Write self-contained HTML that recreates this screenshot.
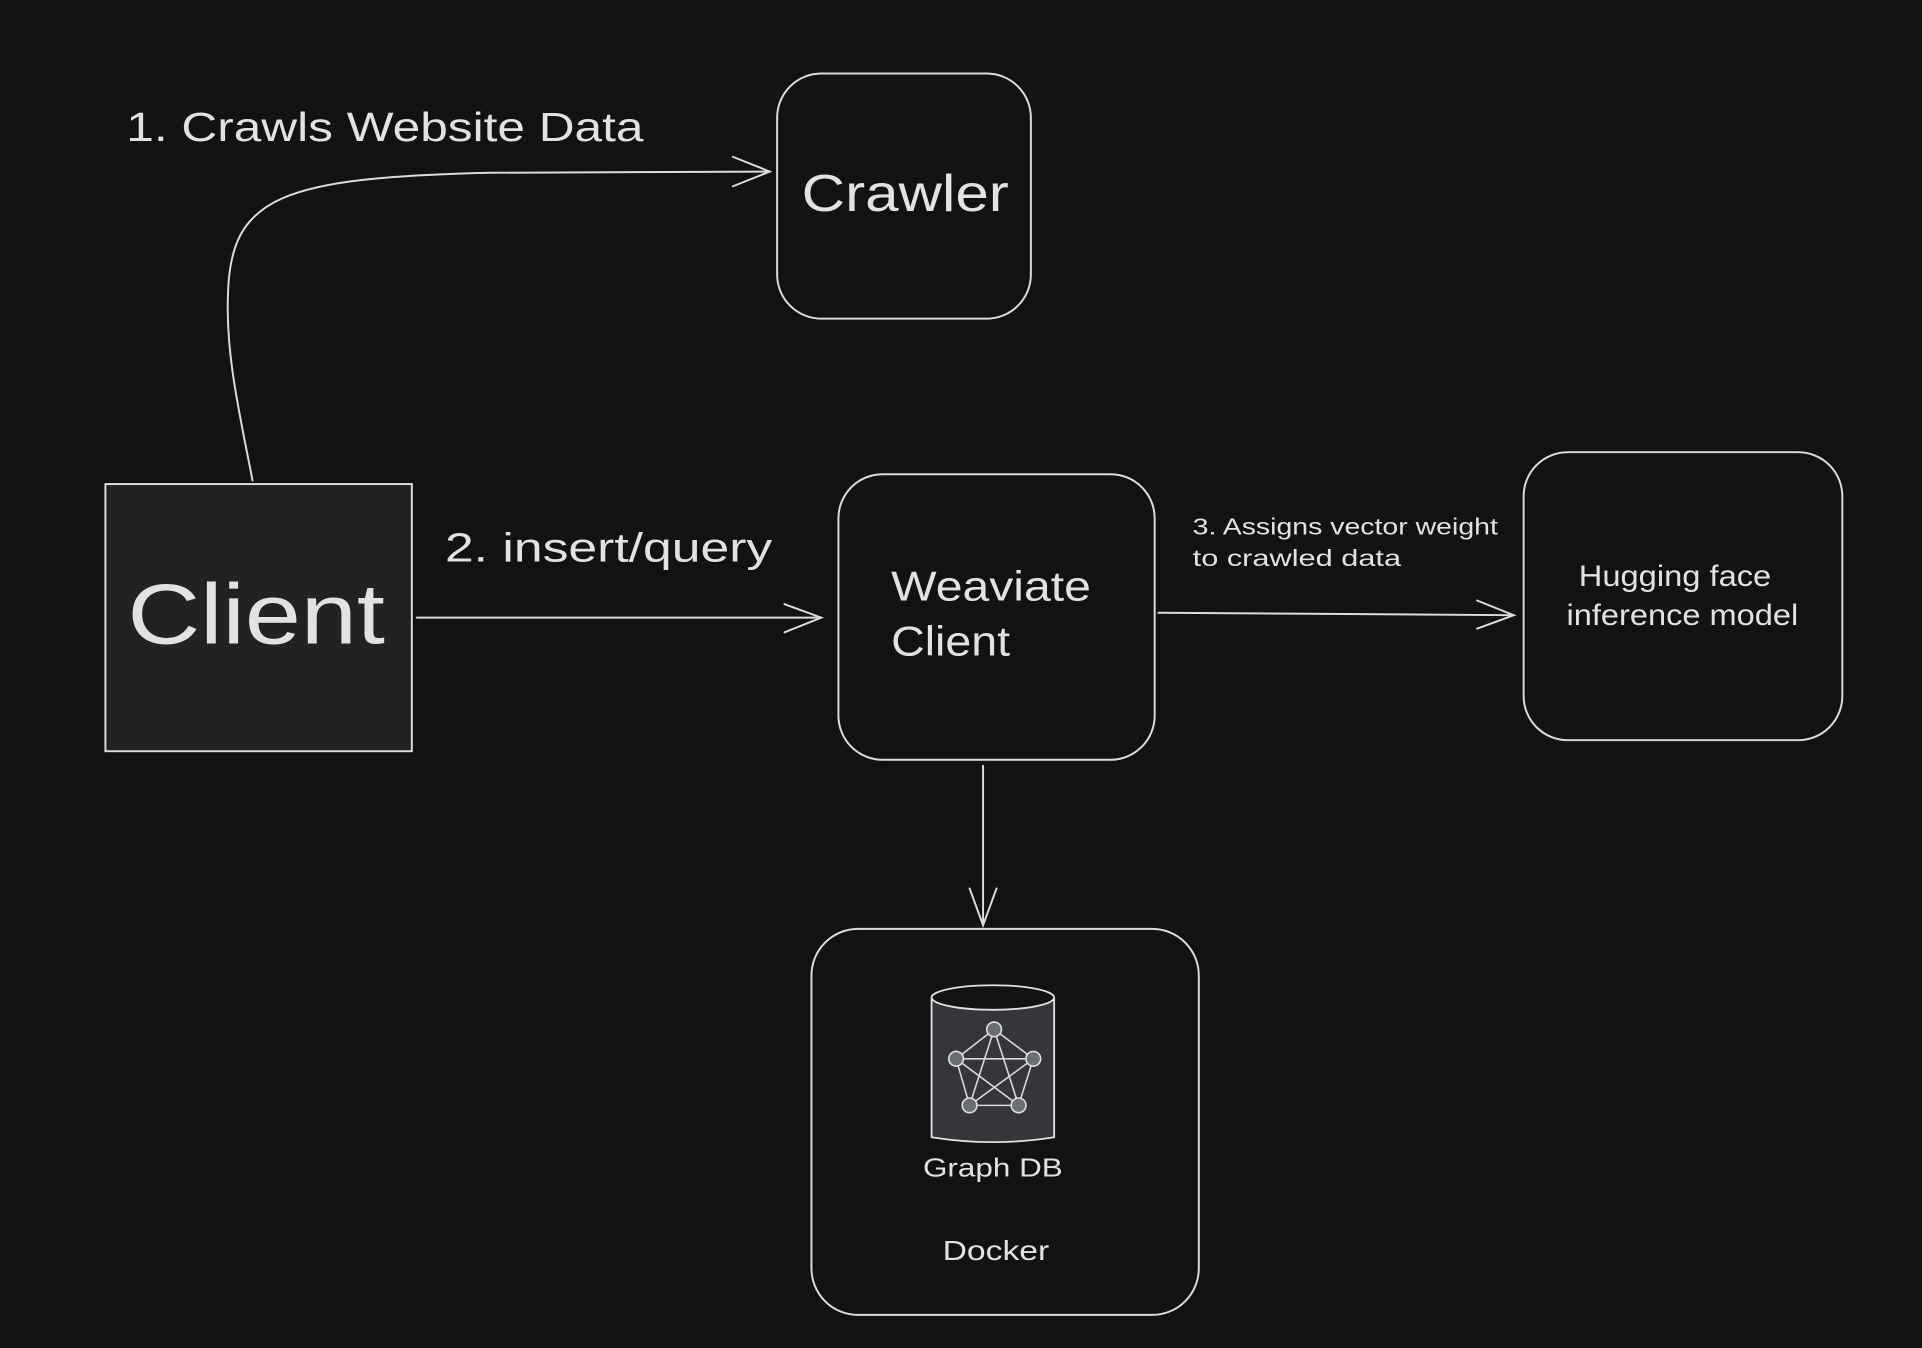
<!DOCTYPE html>
<html><head><meta charset="utf-8"><style>
html,body{margin:0;padding:0;background:#121212;}
svg{display:block}
text{font-family:"Liberation Sans",sans-serif;fill:#e2e2e2}
</style></head><body>
<svg width="1922" height="1348" viewBox="0 0 1568 1100" preserveAspectRatio="none" xmlns="http://www.w3.org/2000/svg">
<rect width="1568" height="1100" fill="#121212"/>
<g fill="none" stroke="#dcdcdc" stroke-width="1.6" stroke-linecap="round">
<rect x="86" y="395" width="250" height="218" fill="#222222"/>
<rect x="634" y="60" width="207" height="200" rx="36"/>
<rect x="684" y="387" width="258" height="233" rx="36"/>
<rect x="1243" y="369" width="260" height="235" rx="36"/>
<rect x="662" y="758" width="316" height="315" rx="38"/>
<path d="M206 392 C196 340 184 290 186 240 C188 160 230 145 400 141 L628 140"/>
<path d="M598 128 L628 140 L598 152"/>
<path d="M340 504 L670 504"/>
<path d="M640 493 L670 504 L640 516"/>
<path d="M945 500 L1235 502"/>
<path d="M1205 490 L1235 502 L1205 513"/>
<path d="M802 625 L802 755"/>
<path d="M791 725 L802 755 L813 725"/>
</g>
<g stroke="#e0e0e0" stroke-width="1.5">
<path d="M760 814 L760 928 Q810 936 860 928 L860 814" fill="#343639"/>
<ellipse cx="810" cy="814" rx="50" ry="10" fill="#121212"/>
<g fill="none" stroke="#d8d8d8" stroke-width="1.3">
<path d="M811 840 L780 864 L791 902 L831 902 L843 864 Z"/>
<path d="M811 840 L791 902 L843 864 L780 864 L831 902 Z"/>
</g>
<g fill="#6b6e72" stroke="#e0e0e0" stroke-width="1.3">
<circle cx="811" cy="840" r="6"/><circle cx="780" cy="864" r="6"/><circle cx="843" cy="864" r="6"/><circle cx="791" cy="902" r="6"/><circle cx="831" cy="902" r="6"/>
</g>
</g>
<text x="104" y="525" font-size="70" textLength="210" lengthAdjust="spacingAndGlyphs">Client</text>
<text x="654" y="172" font-size="42" textLength="169" lengthAdjust="spacingAndGlyphs">Crawler</text>
<text x="727" y="490" font-size="34" textLength="163" lengthAdjust="spacingAndGlyphs">Weaviate</text>
<text x="727" y="535" font-size="34" textLength="97" lengthAdjust="spacingAndGlyphs">Client</text>
<text x="1288" y="478" font-size="24" textLength="157" lengthAdjust="spacingAndGlyphs">Hugging face</text>
<text x="1278" y="510" font-size="24" textLength="189" lengthAdjust="spacingAndGlyphs">inference model</text>
<text x="753" y="960" font-size="21" textLength="114" lengthAdjust="spacingAndGlyphs">Graph DB</text>
<text x="769" y="1028" font-size="23" textLength="87" lengthAdjust="spacingAndGlyphs">Docker</text>
<text x="103" y="115" font-size="33" textLength="422" lengthAdjust="spacingAndGlyphs">1. Crawls Website Data</text>
<text x="363" y="458" font-size="33" textLength="267" lengthAdjust="spacingAndGlyphs">2. insert/query</text>
<text x="973" y="436" font-size="19" textLength="249" lengthAdjust="spacingAndGlyphs">3. Assigns vector weight</text>
<text x="973" y="462" font-size="19" textLength="170" lengthAdjust="spacingAndGlyphs">to crawled data</text>
</svg>
</body></html>
